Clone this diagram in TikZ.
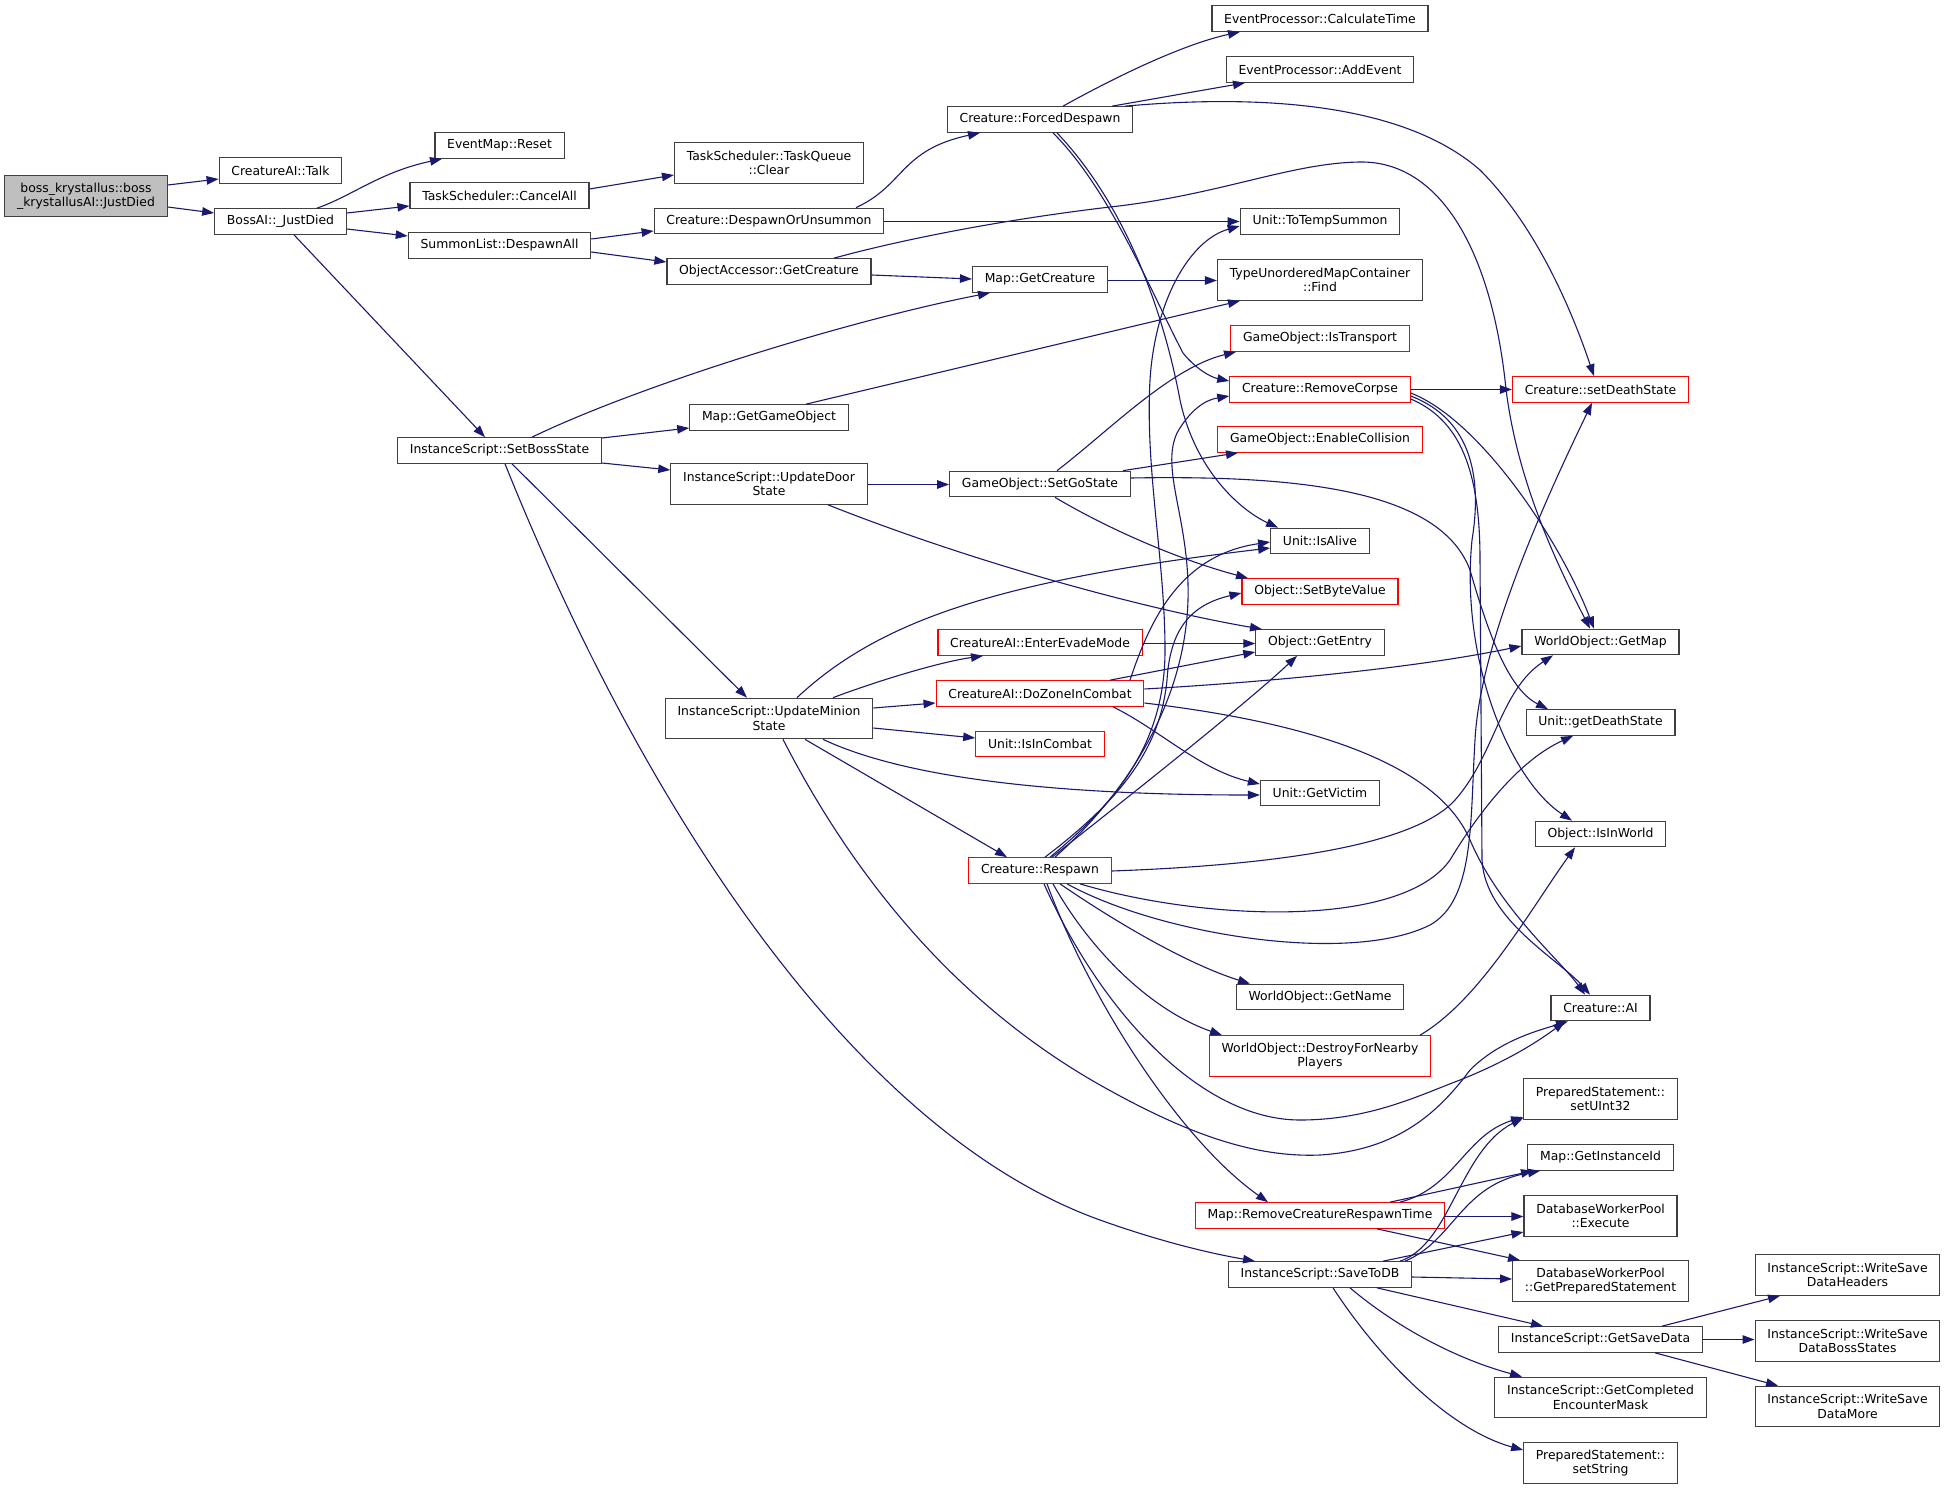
\documentclass[tikz,border=0pt]{standalone}
\usepackage{fontspec}
\setmainfont{DejaVu Sans}
\usetikzlibrary{arrows.meta}
\definecolor{edgeblue}{HTML}{191970}
\definecolor{boxgray}{HTML}{404040}
\definecolor{rootfill}{HTML}{BFBFBF}
\newcommand{\nodefont}{\fontsize{12.4}{14.4}\selectfont}
\tikzset{
  nd/.style={draw=boxgray, line width=1.2pt, fill=white, inner xsep=12.25pt, inner ysep=2pt,
             minimum height=25.5pt, align=center, font=\nodefont},
  rd/.style={nd, draw=red},
  two/.style={minimum height=40.5pt},
  rootbox/.style={nd, fill=rootfill},
  cx/.style={draw=edgeblue, line width=1.1pt, -{Triangle[length=12pt,width=8.5pt]}},
}
\begin{document}
\begin{tikzpicture}[x=1pt,y=-1pt]
\useasboundingbox (0,0) rectangle (1945,1490);
% column 0-2
\node[rootbox,two] (boss) at (86,196) {boss\_krystallus::boss\\\_krystallusAI::JustDied};
\node[nd] (talk) at (280.5,170.5) {CreatureAI::Talk};
\node[nd] (bossai) at (280.5,221.5) {BossAI::\_JustDied};
\node[nd] (reset) at (499.5,145.5) {EventMap::Reset};
\node[nd] (cancelall) at (499.5,195.5) {TaskScheduler::CancelAll};
\node[nd] (despawnall) at (499.5,245.5) {SummonList::DespawnAll};
\node[nd] (setbossstate) at (499.5,450.5) {InstanceScript::SetBossState};
% column 3
\node[nd,two] (taskclear) at (769,163) {TaskScheduler::TaskQueue\\::Clear};
\node[nd] (despawnorun) at (769,221) {Creature::DespawnOrUnsummon};
\node[nd] (objaccess) at (769,271.5) {ObjectAccessor::GetCreature};
\node[nd] (getgameobject) at (769,417.5) {Map::GetGameObject};
\node[nd,two] (updatedoor) at (769,484) {InstanceScript::UpdateDoor\\State};
\node[nd,two] (updateminion) at (769,718.5) {InstanceScript::UpdateMinion\\State};
% column 4
\node[nd] (forceddespawn) at (1040,119.5) {Creature::ForcedDespawn};
\node[nd] (mapgetcreature) at (1040,279.5) {Map::GetCreature};
\node[nd] (setgostate) at (1040,484) {GameObject::SetGoState};
\node[rd] (evade) at (1040,642.5) {CreatureAI::EnterEvadeMode};
\node[rd] (dozone) at (1040,693.5) {CreatureAI::DoZoneInCombat};
\node[rd] (isincombat) at (1040,744) {Unit::IsInCombat};
\node[rd] (respawn) at (1040,870.5) {Creature::Respawn};
% column 5
\node[nd] (calctime) at (1320,18.5) {EventProcessor::CalculateTime};
\node[nd] (addevent) at (1320,69.5) {EventProcessor::AddEvent};
\node[nd] (totemp) at (1320,221.5) {Unit::ToTempSummon};
\node[nd,two] (find) at (1320,280) {TypeUnorderedMapContainer\\::Find};
\node[rd] (istransport) at (1320,338.5) {GameObject::IsTransport};
\node[rd] (removecorpse) at (1320,389.5) {Creature::RemoveCorpse};
\node[rd] (enablecollision) at (1320,439.5) {GameObject::EnableCollision};
\node[nd] (isalive) at (1320,541) {Unit::IsAlive};
\node[rd] (setbyte) at (1320,591.5) {Object::SetByteValue};
\node[nd] (getentry) at (1320,642.5) {Object::GetEntry};
\node[nd] (getvictim) at (1320,793) {Unit::GetVictim};
\node[nd] (getname) at (1320,997) {WorldObject::GetName};
\node[rd,two] (destroy) at (1320,1056) {WorldObject::DestroyForNearby\\Players};
\node[rd] (removerespawn) at (1320,1215.5) {Map::RemoveCreatureRespawnTime};
\node[nd] (savetodb) at (1320,1274.5) {InstanceScript::SaveToDB};
% column 6
\node[rd] (setdeathstate) at (1600.5,389.5) {Creature::setDeathState};
\node[nd] (getmap) at (1600.5,642) {WorldObject::GetMap};
\node[nd] (getdeathstate) at (1600.5,722.5) {Unit::getDeathState};
\node[nd] (isinworld) at (1600.5,834) {Object::IsInWorld};
\node[nd] (ai) at (1600.5,1008) {Creature::AI};
\node[nd,two] (setuint32) at (1600.5,1099) {PreparedStatement::\\setUInt32};
\node[nd] (getinstanceid) at (1600.5,1157.5) {Map::GetInstanceId};
\node[nd,two] (execute) at (1600.5,1216) {DatabaseWorkerPool\\::Execute};
\node[nd,two] (getprepared) at (1600.5,1281) {DatabaseWorkerPool\\::GetPreparedStatement};
\node[nd] (getsavedata) at (1600.5,1339.5) {InstanceScript::GetSaveData};
\node[nd,two] (getcompleted) at (1600.5,1397.5) {InstanceScript::GetCompleted\\EncounterMask};
\node[nd,two] (setstring) at (1600.5,1463) {PreparedStatement::\\setString};
% column 7
\node[nd,two] (writeheaders) at (1847.5,1275) {InstanceScript::WriteSave\\DataHeaders};
\node[nd,two] (writeboss) at (1847.5,1341) {InstanceScript::WriteSave\\DataBossStates};
\node[nd,two] (writemore) at (1847.5,1406.5) {InstanceScript::WriteSave\\DataMore};

% ---------------- edges ----------------
\draw[cx] (boss.east |- 0,185) -- (talk.west |- 0,179);
\draw[cx] (boss.east |- 0,207) -- (bossai.west |- 0,213);
\draw[cx] (bossai.north -| 317,0) .. controls (352,196) and (380,172) .. (reset.south -| 442,0);
\draw[cx] (bossai.east |- 0,213) -- (cancelall.west |- 0,206);
\draw[cx] (bossai.east |- 0,229) -- (despawnall.west |- 0,236);
\draw[cx] (bossai.south -| 294,0) -- (setbossstate.north -| 485,0);
\draw[cx] (cancelall.east |- 0,189) -- (taskclear.west |- 0,175);
\draw[cx] (despawnall.east |- 0,239) -- (despawnorun.west |- 0,231);
\draw[cx] (despawnall.east |- 0,252) -- (objaccess.west |- 0,262);
\draw[cx] (despawnorun.north -| 856,0) .. controls (905,185) and (900,150) .. (forceddespawn.south -| 980,0);
\draw[cx] (despawnorun.east |- 0,221.5) -- (totemp.west |- 0,221.5);
\draw[cx] (objaccess.east |- 0,275) -- (mapgetcreature.west |- 0,279);
\draw[cx] (objaccess.north -| 834,0) .. controls (900,240) and (1000,220) .. (1110,207)
   .. controls (1220,195) and (1290,163) .. (1360,162) .. controls (1440,161) and (1490,250) .. (1505,380)
   .. controls (1515,480) and (1560,570) .. (getmap.north -| 1590,0);
\draw[cx] (mapgetcreature.east |- 0,280.5) -- (find.west |- 0,280.5);
\draw[cx] (getgameobject.north -| 806,0) -- (find.south -| 1240,0);
\draw[cx] (setbossstate.north -| 532,0) .. controls (640,385) and (850,320) .. (mapgetcreature.south -| 990,0);
\draw[cx] (setbossstate.east |- 0,438) -- (getgameobject.west |- 0,428);
\draw[cx] (setbossstate.east |- 0,463) -- (updatedoor.west |- 0,470);
\draw[cx] (setbossstate.south -| 512,0) -- (updateminion.north -| 747,0);
\draw[cx] (setbossstate.south -| 505,0) .. controls (640,800) and (850,1130) .. (1100,1220)
   .. controls (1170,1245) and (1220,1255) .. (savetodb.north -| 1255,0);
\draw[cx] (updatedoor.east |- 0,484.5) -- (setgostate.west |- 0,484.5);
\draw[cx] (updatedoor.south -| 828,0) .. controls (980,565) and (1150,610) .. (getentry.north -| 1262,0);
\draw[cx] (setgostate.north -| 1057,0) .. controls (1110,430) and (1170,368) .. (istransport.south -| 1236,0);
\draw[cx] (setgostate.north -| 1123,0) -- (enablecollision.south -| 1238,0);
\draw[cx] (setgostate.south -| 1055,0) .. controls (1110,530) and (1180,560) .. (setbyte.north -| 1248,0);
\draw[cx] (setgostate.east |- 0,478) .. controls (1300,475) and (1440,490) .. (1470,570)
   .. controls (1490,640) and (1510,690) .. (getdeathstate.north -| 1548,0);
\draw[cx] (forceddespawn.north -| 1063,0) .. controls (1110,80) and (1180,45) .. (calctime.south -| 1240,0);
\draw[cx] (forceddespawn.north -| 1112,0) -- (addevent.south -| 1245,0);
\draw[cx] (forceddespawn.north -| 1125,0) .. controls (1250,95) and (1400,100) .. (1480,170)
   .. controls (1540,230) and (1575,320) .. (setdeathstate.north -| 1594,0);
\draw[cx] (forceddespawn.south -| 1053,0) .. controls (1110,190) and (1150,290) .. (1183,353)
   .. controls (1195,368) and (1210,377) .. (removecorpse.west |- 0,381);
\draw[cx] (forceddespawn.south -| 1057,0) .. controls (1130,210) and (1165,320) .. (1180,400)
   .. controls (1195,470) and (1240,510) .. (isalive.north -| 1278,0);
\draw[cx] (respawn.north -| 1050,0) .. controls (1120,800) and (1165,740) .. (1165,650)
   .. controls (1165,560) and (1145,470) .. (1150,380) .. controls (1155,300) and (1190,240) .. (totemp.west |- 0,226);
\draw[cx] (respawn.north -| 1055,0) .. controls (1130,790) and (1185,700) .. (1188,600)
   .. controls (1190,520) and (1160,470) .. (1177,433) .. controls (1190,410) and (1205,400) .. (removecorpse.west |- 0,396);
\draw[cx] (respawn.north -| 1045,0) .. controls (1120,800) and (1160,750) .. (1167,680)
   .. controls (1170,630) and (1190,605) .. (setbyte.west |- 0,593);
\draw[cx] (respawn.north -| 1052,0) .. controls (1150,780) and (1250,700) .. (getentry.south -| 1297,0);
\draw[cx] (respawn.east |- 0,871) .. controls (1250,866) and (1410,850) .. (1455,800)
   .. controls (1495,755) and (1500,690) .. (getmap.south -| 1553,0);
\draw[cx] (respawn.south -| 1080,0) .. controls (1200,920) and (1400,930) .. (1450,860)
   .. controls (1480,810) and (1520,760) .. (getdeathstate.south -| 1573,0);
\draw[cx] (respawn.south -| 1067,0) .. controls (1160,935) and (1350,965) .. (1430,925)
   .. controls (1475,900) and (1470,820) .. (1475,740) .. controls (1480,640) and (1550,490) .. (setdeathstate.south -| 1592,0);
\draw[cx] (respawn.south -| 1060,0) .. controls (1120,925) and (1190,965) .. (getname.north -| 1250,0);
\draw[cx] (respawn.south -| 1053,0) .. controls (1090,950) and (1150,1010) .. (destroy.north -| 1222,0);
\draw[cx] (respawn.south -| 1047,0) .. controls (1090,1000) and (1180,1140) .. (removerespawn.north -| 1268,0);
\draw[cx] (respawn.south -| 1044,0) .. controls (1100,1010) and (1200,1120) .. (1300,1120)
   .. controls (1370,1120) and (1420,1095) .. (1460,1080) .. controls (1510,1060) and (1540,1040) .. (ai.south -| 1565,0);
\draw[cx] (removecorpse.east |- 0,389.5) -- (setdeathstate.west |- 0,389.5);
\draw[cx] (removecorpse.east |- 0,393) .. controls (1480,420) and (1560,540) .. (getmap.north -| 1594,0);
\draw[cx] (removecorpse.east |- 0,396) .. controls (1460,415) and (1485,460) .. (1472,540)
   .. controls (1460,660) and (1510,780) .. (isinworld.north -| 1572,0);
\draw[cx] (removecorpse.east |- 0,399) .. controls (1460,420) and (1480,470) .. (1480,560)
   -- (1482,860) .. controls (1485,920) and (1560,960) .. (ai.north -| 1590,0);
\draw[cx] (destroy.north -| 1420,0) .. controls (1480,1000) and (1530,910) .. (isinworld.south -| 1575,0);
\draw[cx] (dozone.north -| 1130,0) .. controls (1150,620) and (1180,555) .. (isalive.west |- 0,542);
\draw[cx] (dozone.north -| 1110,0) -- (getentry.west |- 0,652);
\draw[cx] (dozone.east |- 0,689) .. controls (1300,680) and (1430,665) .. (getmap.west |- 0,646);
\draw[cx] (dozone.east |- 0,703) .. controls (1330,725) and (1440,770) .. (1470,840)
   .. controls (1500,910) and (1560,960) .. (ai.north -| 1585,0);
\draw[cx] (dozone.south -| 1113,0) .. controls (1160,730) and (1200,770) .. (getvictim.west |- 0,784);
\draw[cx] (evade.east |- 0,643.5) -- (getentry.west |- 0,643.5);
\draw[cx] (updateminion.north -| 797,0) .. controls (880,620) and (1000,580) .. (isalive.west |- 0,548);
\draw[cx] (updateminion.north -| 833,0) .. controls (880,680) and (940,662) .. (evade.south -| 983,0);
\draw[cx] (updateminion.east |- 0,708) -- (dozone.west |- 0,703);
\draw[cx] (updateminion.east |- 0,728) -- (isincombat.west |- 0,738);
\draw[cx] (updateminion.south -| 823,0) .. controls (920,785) and (1100,795) .. (getvictim.west |- 0,795);
\draw[cx] (updateminion.south -| 805,0) -- (respawn.north -| 1007,0);
\draw[cx] (updateminion.south -| 783,0) .. controls (850,870) and (950,1000) .. (1100,1085)
   .. controls (1180,1130) and (1250,1158) .. (1320,1155) .. controls (1400,1150) and (1440,1110) .. (1470,1070)
   .. controls (1500,1040) and (1540,1030) .. (ai.south -| 1568,0);
\draw[cx] (removerespawn.north -| 1400,0) .. controls (1455,1188) and (1465,1135) .. (setuint32.west |- 0,1117);
\draw[cx] (removerespawn.north -| 1390,0) -- (getinstanceid.south -| 1533,0);
\draw[cx] (removerespawn.east |- 0,1216.5) -- (execute.west |- 0,1216.5);
\draw[cx] (removerespawn.south -| 1377,0) -- (getprepared.north -| 1520,0);
\draw[cx] (savetodb.north -| 1400,0) .. controls (1450,1245) and (1460,1150) .. (setuint32.west |- 0,1118);
\draw[cx] (savetodb.north -| 1405,0) .. controls (1455,1240) and (1460,1185) .. (getinstanceid.south -| 1540,0);
\draw[cx] (savetodb.north -| 1383,0) -- (execute.west |- 0,1232);
\draw[cx] (savetodb.east |- 0,1277) -- (getprepared.west |- 0,1279);
\draw[cx] (savetodb.south -| 1377,0) -- (getsavedata.north -| 1543,0);
\draw[cx] (savetodb.south -| 1350,0) .. controls (1400,1330) and (1460,1360) .. (getcompleted.north -| 1522,0);
\draw[cx] (savetodb.south -| 1333,0) .. controls (1380,1360) and (1450,1430) .. (setstring.west |- 0,1450);
\draw[cx] (getsavedata.north -| 1662,0) -- (writeheaders.south -| 1780,0);
\draw[cx] (getsavedata.east |- 0,1339.5) -- (writeboss.west |- 0,1339.5);
\draw[cx] (getsavedata.south -| 1655,0) -- (writemore.north -| 1778,0);
\end{tikzpicture}
\end{document}
